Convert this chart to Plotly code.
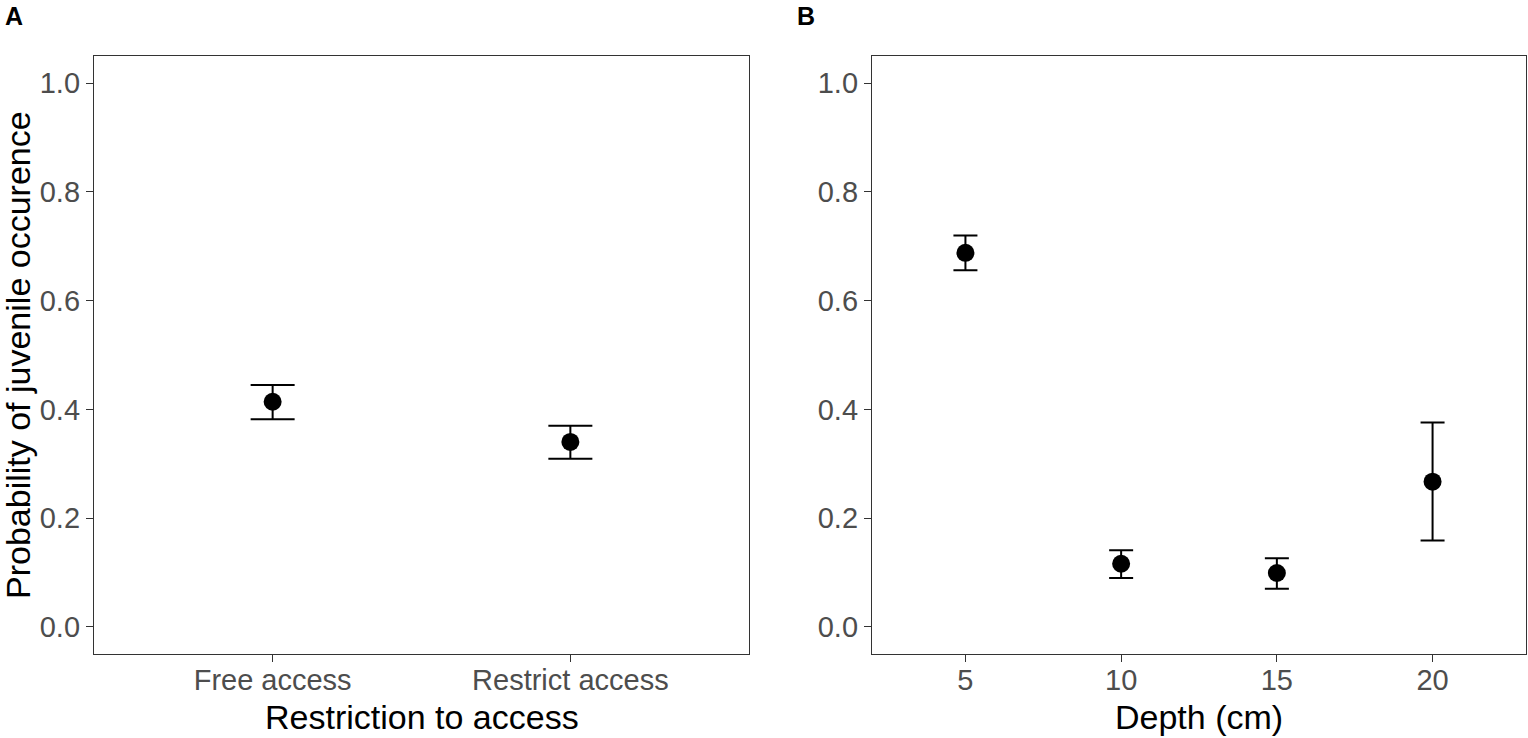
import plotly.graph_objects as go

# Panel A data
access_cats = ["Free access", "Restrict access"]
access_prob = [0.414, 0.340]
access_upper = [0.445, 0.370]
access_lower = [0.382, 0.309]

# Panel B data
depth_vals = [5, 10, 15, 20]
depth_prob = [0.688, 0.116, 0.099, 0.267]
depth_upper = [0.720, 0.141, 0.126, 0.376]
depth_lower = [0.656, 0.090, 0.070, 0.159]

y_ticks = [0.0, 0.2, 0.4, 0.6, 0.8, 1.0]
y_ticktext = ["0.0", "0.2", "0.4", "0.6", "0.8", "1.0"]
depth_ticks = [5, 10, 15, 20]

W, H = 1528, 738
FONT = "Liberation Sans, Arial, sans-serif"

fig = go.Figure()

fig.add_trace(go.Scatter(
    x=[1, 2], y=access_prob, mode="markers",
    marker=dict(size=18, color="black"),
    error_y=dict(type="data", symmetric=False,
                 array=[u - p for u, p in zip(access_upper, access_prob)],
                 arrayminus=[p - l for p, l in zip(access_prob, access_lower)],
                 color="black", thickness=2, width=22),
    xaxis="x", yaxis="y", showlegend=False))

fig.add_trace(go.Scatter(
    x=depth_vals, y=depth_prob, mode="markers",
    marker=dict(size=18, color="black"),
    error_y=dict(type="data", symmetric=False,
                 array=[u - p for u, p in zip(depth_upper, depth_prob)],
                 arrayminus=[p - l for p, l in zip(depth_prob, depth_lower)],
                 color="black", thickness=2, width=12),
    xaxis="x2", yaxis="y2", showlegend=False))

ydom = [1 - 654 / H, 1 - 56 / H]
common_axis = dict(showline=True, mirror=True, linecolor="#333333", linewidth=1.3,
                   showgrid=False, zeroline=False, ticks="outside", ticklen=7,
                   tickwidth=1.3, tickcolor="#333333",
                   tickfont=dict(family=FONT, size=29, color="#4D4D4D"))
xaxis_extra = dict(ticklabelstandoff=-7)
title_font = dict(family=FONT, size=34, color="black")

fig.update_layout(
    width=W, height=H,
    margin=dict(l=0, r=0, t=0, b=0),
    paper_bgcolor="white", plot_bgcolor="white",
    font=dict(family=FONT),
    xaxis=dict(domain=[94 / W, 749 / W], range=[0.4, 2.6],
               tickvals=[1, 2], ticktext=access_cats, anchor="y",
               **common_axis, **xaxis_extra),
    yaxis=dict(domain=ydom, range=[-0.05, 1.05], anchor="x",
               tickvals=y_ticks, ticktext=y_ticktext,
               **common_axis),
    xaxis2=dict(domain=[872 / W, 1526 / W], range=[2.0, 23.0],
                tickvals=depth_ticks, anchor="y2",
                **common_axis, **xaxis_extra),
    yaxis2=dict(domain=ydom, range=[-0.05, 1.05], anchor="x2",
                tickvals=y_ticks, ticktext=y_ticktext,
                **common_axis),
    annotations=[
        dict(text="<b>A</b>", x=3 / W, y=1 - 0 / H, xref="paper", yref="paper",
             xanchor="left", yanchor="top", showarrow=False,
             font=dict(family=FONT, size=25, color="black")),
        dict(text="<b>B</b>", x=795 / W, y=1 - 0 / H, xref="paper", yref="paper",
             xanchor="left", yanchor="top", showarrow=False,
             font=dict(family=FONT, size=25, color="black")),
        dict(text="Restriction to access", x=421.5 / W, y=1 - 717 / H,
             xref="paper", yref="paper", xanchor="center", yanchor="middle",
             showarrow=False, font=title_font),
        dict(text="Depth (cm)", x=1199 / W, y=1 - 717 / H,
             xref="paper", yref="paper", xanchor="center", yanchor="middle",
             showarrow=False, font=title_font),
        dict(text="Probability of juvenile occurence", x=18 / W, y=1 - 355 / H,
             xref="paper", yref="paper", xanchor="center", yanchor="middle",
             textangle=-90, showarrow=False, font=title_font),
    ],
)

fig.write_html("out.html", config={"displayModeBar": False},
               post_script="document.body.style.margin='0px';")
